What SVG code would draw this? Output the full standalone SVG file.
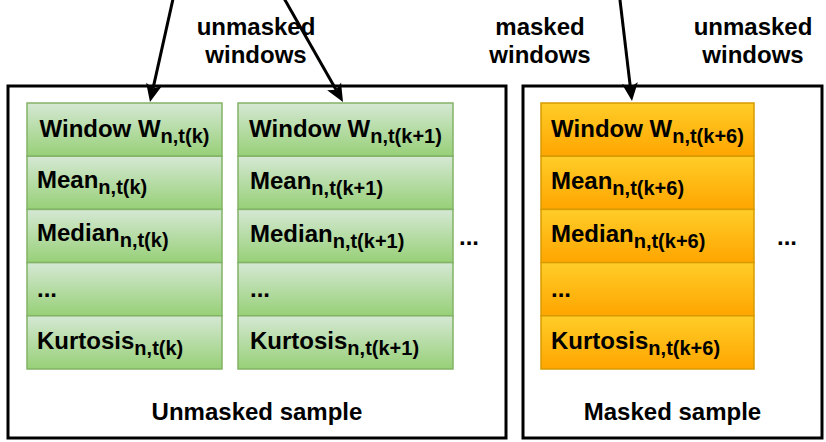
<svg xmlns="http://www.w3.org/2000/svg" width="826" height="442" viewBox="0 0 826 442">
<style>
text{font-family:"Liberation Sans",Arial,sans-serif;font-weight:bold;font-size:24px;fill:#000}
.sub{font-size:20px}
.outer{fill:#fff;stroke:#000;stroke-width:3}
.g{fill:url(#gg);stroke:#82b366;stroke-width:1.5}
.o{fill:url(#og);stroke:#d79b00;stroke-width:1.5}
.c{text-anchor:middle}
.conn{stroke:#000;stroke-width:3;fill:none;marker-end:url(#ah)}
</style>
<defs>
<linearGradient id="gg" x1="0" y1="0" x2="0" y2="1"><stop offset="0" stop-color="#d5e8d4"/><stop offset="1" stop-color="#97d077"/></linearGradient>
<linearGradient id="og" x1="0" y1="0" x2="0" y2="1"><stop offset="0" stop-color="#ffcd28"/><stop offset="1" stop-color="#ffa500"/></linearGradient>
<marker id="ah" markerUnits="userSpaceOnUse" markerWidth="22" markerHeight="20" viewBox="0 -10 22 20" refX="4" refY="0" orient="auto" overflow="visible"><path d="M0,-8 L18,0 L0,8 L4,0 Z" fill="#000"/></marker>
</defs>
<rect width="826" height="442" fill="#fff"/>
<g id="unmasked-sample">
<rect class="outer" x="8" y="86" width="498" height="352"/>
<text class="c" x="257" y="420">Unmasked sample</text>
</g>
<g id="masked-sample">
<rect class="outer" x="523" y="86" width="299" height="352"/>
<text class="c" x="672.5" y="420">Masked sample</text>
</g>
<g id="window-k">
<rect class="g" x="27" y="103" width="195" height="53.2"/>
<rect class="g" x="27" y="156.2" width="195" height="53.2"/>
<rect class="g" x="27" y="209.4" width="195" height="53.2"/>
<rect class="g" x="27" y="262.6" width="195" height="53.2"/>
<rect class="g" x="27" y="315.8" width="195" height="53.2"/>
<text class="c" x="124.5" y="137">Window W<tspan class="sub" dy="6">n,t(k)</tspan></text>
<text x="37" y="188">Mean<tspan class="sub" dy="6">n,t(k)</tspan></text>
<text x="37" y="241">Median<tspan class="sub" dy="6">n,t(k)</tspan></text>
<text x="37" y="297">...</text>
<text x="37" y="349">Kurtosis<tspan class="sub" dy="6">n,t(k)</tspan></text>
</g>
<g id="window-k1">
<rect class="g" x="238" y="103" width="215" height="53.2"/>
<rect class="g" x="238" y="156.2" width="215" height="53.2"/>
<rect class="g" x="238" y="209.4" width="215" height="53.2"/>
<rect class="g" x="238" y="262.6" width="215" height="53.2"/>
<rect class="g" x="238" y="315.8" width="215" height="53.2"/>
<text class="c" x="345.5" y="137">Window W<tspan class="sub" dy="6">n,t(k+1)</tspan></text>
<text x="250" y="189">Mean<tspan class="sub" dy="6">n,t(k+1)</tspan></text>
<text x="250" y="242">Median<tspan class="sub" dy="6">n,t(k+1)</tspan></text>
<text x="250" y="297">...</text>
<text x="250" y="349">Kurtosis<tspan class="sub" dy="6">n,t(k+1)</tspan></text>
</g>
<g id="window-k6">
<rect class="o" x="541" y="103" width="213" height="53.2"/>
<rect class="o" x="541" y="156.2" width="213" height="53.2"/>
<rect class="o" x="541" y="209.4" width="213" height="53.2"/>
<rect class="o" x="541" y="262.6" width="213" height="53.2"/>
<rect class="o" x="541" y="315.8" width="213" height="53.2"/>
<text class="c" x="647.5" y="137">Window W<tspan class="sub" dy="6">n,t(k+6)</tspan></text>
<text x="551" y="189">Mean<tspan class="sub" dy="6">n,t(k+6)</tspan></text>
<text x="551" y="242">Median<tspan class="sub" dy="6">n,t(k+6)</tspan></text>
<text x="551" y="297">...</text>
<text x="551" y="349">Kurtosis<tspan class="sub" dy="6">n,t(k+6)</tspan></text>
</g>
<g id="ellipsis">
<text x="459" y="245">...</text>
<text x="777" y="245">...</text>
</g>
<g id="labels">
<text class="c" x="256" y="35">unmasked</text>
<text class="c" x="256" y="63">windows</text>
<text class="c" x="540" y="35">masked</text>
<text class="c" x="540" y="63">windows</text>
<text class="c" x="753" y="35">unmasked</text>
<text class="c" x="753" y="63">windows</text>
</g>
<g id="connectors">
<line class="conn" x1="175" y1="-10" x2="153.05" y2="88.34"/>
<line class="conn" x1="279.3" y1="-10" x2="336.08" y2="89.83"/>
<line class="conn" x1="618.8" y1="-10" x2="630.35" y2="87.1"/>
</g>
</svg>
